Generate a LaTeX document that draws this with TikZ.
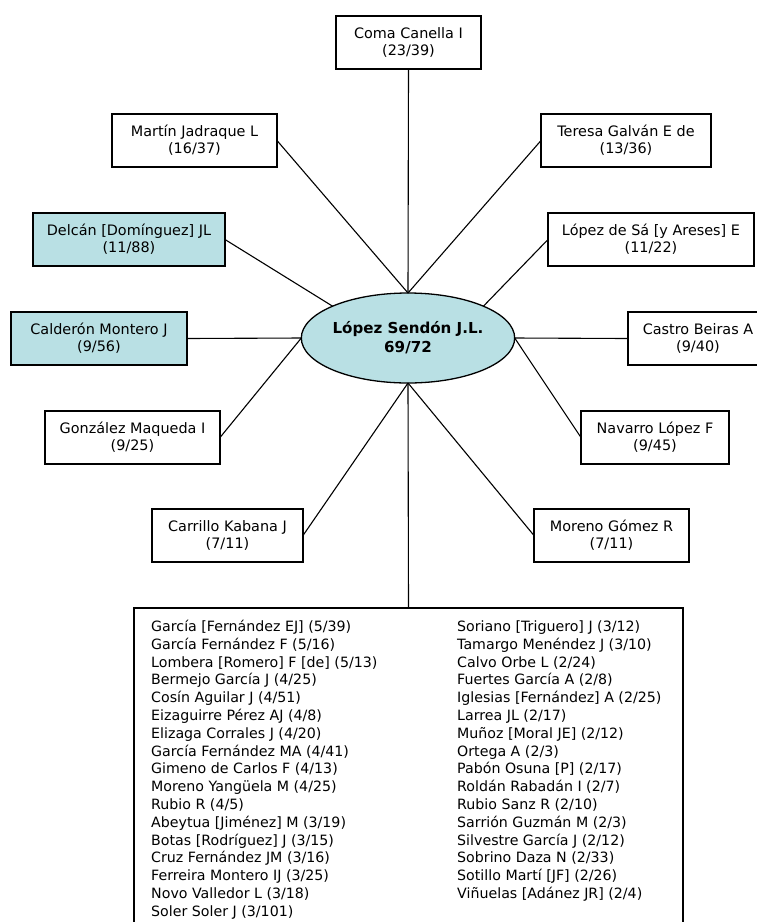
\documentclass[tikz,border=0pt]{standalone}
\usepackage{fontspec}
\setmainfont{DejaVu Sans}
\usetikzlibrary{shapes.geometric}
\definecolor{egofill}{HTML}{B9E0E4}
\begin{document}
\begin{tikzpicture}[x=1pt,y=-1pt,
  box/.style={draw, line width=1.3pt, rectangle, minimum height=53pt, inner sep=0pt, outer sep=0pt, align=center, font=\fontsize{14.4}{17}\selectfont},
  hl/.style={fill=egofill},
  link/.style={line width=1.1pt},
  listitem/.style={anchor=base west, inner sep=0pt, font=\fontsize{14.2}{17.8}\selectfont}]
\fill[white] (0,0) rectangle (757,922);
\useasboundingbox (0,0) rectangle (757,922);

\node[draw, line width=1.3pt, ellipse, fill=egofill, minimum width=182pt, minimum height=90pt, inner sep=0pt, outer sep=0pt, align=center, font=\bfseries\fontsize{15.1}{19}\selectfont] (ego) at (408,338) {López Sendón J.L.\\69/72};

\node[box, minimum width=145pt] (coma) at (408.5,42.5) {Coma Canella I\\(23/39)};
\node[box, minimum width=165pt] (martin) at (194.5,140.5) {Martín Jadraque L\\(16/37)};
\node[box, minimum width=170pt] (teresa) at (626,140.5) {Teresa Galván E de\\(13/36)};
\node[box, hl, minimum width=192pt] (delcan) at (129,239.5) {Delcán [Domínguez] JL\\(11/88)};
\node[box, minimum width=206pt] (lopezsa) at (651,239.5) {López de Sá [y Areses] E\\(11/22)};
\node[box, hl, minimum width=176pt] (calderon) at (99,338.5) {Calderón Montero J\\(9/56)};
\node[box, minimum width=140pt] (castro) at (698,338.5) {Castro Beiras A\\(9/40)};
\node[box, minimum width=175pt] (gonzalez) at (132.5,437.5) {González Maqueda I\\(9/25)};
\node[box, minimum width=148pt] (navarro) at (655,437.5) {Navarro López F\\(9/45)};
\node[box, minimum width=151pt] (carrillo) at (227.5,535.5) {Carrillo Kabana J\\(7/11)};
\node[box, minimum width=155pt] (moreno) at (611.5,535.5) {Moreno Gómez R\\(7/11)};

\node[draw, line width=1.3pt, rectangle, minimum width=549pt, minimum height=332pt, inner sep=0pt, outer sep=0pt] (list) at (408.5,774) {};

\draw[link] (coma.south) -- (ego.north);
\draw[link] (martin.east) -- (ego.north);
\draw[link] (teresa.west) -- (ego.north);
\draw[link] (delcan.east) -- (ego.north west);
\draw[link] (lopezsa.west) -- (ego.north east);
\draw[link] (calderon.east) -- (ego.west);
\draw[link] (castro.west) -- (ego.east);
\draw[link] (gonzalez.east) -- (ego.west);
\draw[link] (navarro.west) -- (ego.east);
\draw[link] (carrillo.east) -- (ego.south);
\draw[link] (moreno.west) -- (ego.south);
\draw[link] (ego.south) -- (list.north);

\foreach \t [count=\i] in {
  {García [Fernández EJ] (5/39)},
  {García Fernández F (5/16)},
  {Lombera [Romero] F [de] (5/13)},
  {Bermejo García J (4/25)},
  {Cosín Aguilar J (4/51)},
  {Eizaguirre Pérez AJ (4/8)},
  {Elizaga Corrales J (4/20)},
  {García Fernández MA (4/41)},
  {Gimeno de Carlos F (4/13)},
  {Moreno Yangüela M (4/25)},
  {Rubio R (4/5)},
  {Abeytua [Jiménez] M (3/19)},
  {Botas [Rodríguez] J (3/15)},
  {Cruz Fernández JM (3/16)},
  {Ferreira Montero IJ (3/25)},
  {Novo Valledor L (3/18)},
  {Soler Soler J (3/101)}}
  \node[listitem] (la\i) at (151,{631.5+17.8*(\i-1)}) {\t};

\foreach \t [count=\i] in {
  {Soriano [Triguero] J (3/12)},
  {Tamargo Menéndez J (3/10)},
  {Calvo Orbe L (2/24)},
  {Fuertes García A (2/8)},
  {Iglesias [Fernández] A (2/25)},
  {Larrea JL (2/17)},
  {Muñoz [Moral JE] (2/12)},
  {Ortega A (2/3)},
  {Pabón Osuna [P] (2/17)},
  {Roldán Rabadán I (2/7)},
  {Rubio Sanz R (2/10)},
  {Sarrión Guzmán M (2/3)},
  {Silvestre García J (2/12)},
  {Sobrino Daza N (2/33)},
  {Sotillo Martí [JF] (2/26)},
  {Viñuelas [Adánez JR] (2/4)}}
  \node[listitem] (lb\i) at (457,{631.5+17.8*(\i-1)}) {\t};
\end{tikzpicture}
\end{document}
